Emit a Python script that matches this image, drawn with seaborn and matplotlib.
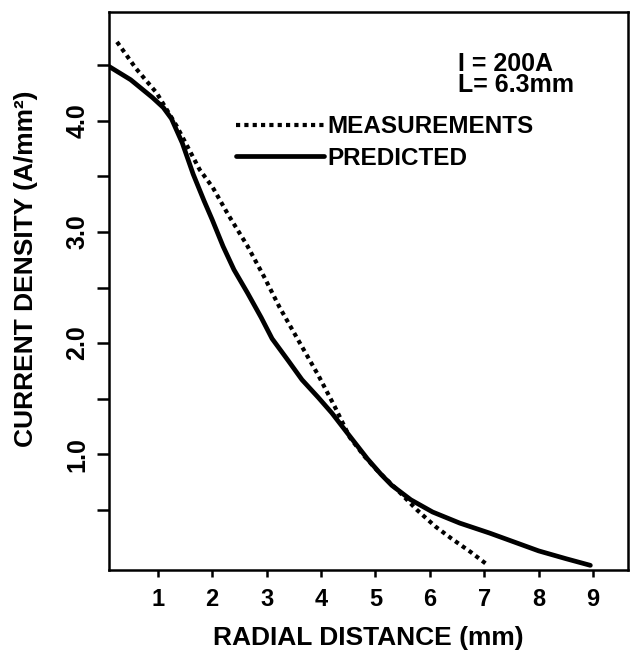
import numpy as np
import pandas as pd
import matplotlib
matplotlib.use("Agg")
import matplotlib.pyplot as plt
import seaborn as sns

# values
pred_r = [0.10, 0.50, 0.90, 1.10, 1.25, 1.45, 1.65, 1.85, 2.00, 2.20, 2.40,
          2.65, 2.90, 3.10, 3.40, 3.65, 3.95, 4.20, 4.50, 4.85, 5.10, 5.30,
          5.65, 6.05, 6.55, 7.10, 7.55, 8.00, 8.50, 8.95]
pred_j = [4.49, 4.37, 4.21, 4.12, 4.02, 3.80, 3.52, 3.28, 3.11, 2.87, 2.66,
          2.45, 2.23, 2.04, 1.84, 1.67, 1.51, 1.37, 1.18, 0.96, 0.82, 0.72,
          0.59, 0.48, 0.38, 0.29, 0.21, 0.13, 0.06, 0.00]

meas_r = [0.25, 0.60, 0.98, 1.35, 1.77, 2.01, 2.30, 2.64, 2.95, 3.24, 3.60,
          3.95, 4.25, 4.53, 4.80, 5.02, 5.40, 5.76, 6.10, 6.40, 6.75, 7.07]
meas_j = [4.71, 4.47, 4.25, 3.95, 3.56, 3.40, 3.15, 2.88, 2.60, 2.32, 2.01,
          1.71, 1.43, 1.15, 0.98, 0.86, 0.68, 0.50, 0.35, 0.24, 0.12, 0.00]

x_ticks = [1, 2, 3, 4, 5, 6, 7, 8, 9]
y_ticks = [0.5, 1.0, 1.5, 2.0, 2.5, 3.0, 3.5, 4.0, 4.5]
y_tick_labels = ["", "1.0", "", "2.0", "", "3.0", "", "4.0", ""]

sns.set_style("ticks")
plt.rcParams["font.family"] = ["Liberation Sans", "DejaVu Sans"]
plt.rcParams["font.weight"] = "bold"
plt.rcParams["text.color"] = "black"
plt.rcParams["axes.labelcolor"] = "black"
plt.rcParams["xtick.color"] = "black"
plt.rcParams["ytick.color"] = "black"
plt.rcParams["axes.edgecolor"] = "black"

fig = plt.figure(figsize=(6.44, 6.61), dpi=100)
ax = fig.add_axes([0.169, 0.138, 0.806, 0.844])

sns.lineplot(x=meas_r, y=meas_j, ax=ax, color="black", lw=3.0, sort=False,
             linestyle=(0, (1, 1)), label="MEASUREMENTS")
sns.lineplot(x=pred_r, y=pred_j, ax=ax, color="black", lw=3.4, sort=False,
             label="PREDICTED")

ax.set_xlim(0.1, 9.64)
ax.set_ylim(-0.04, 4.98)

ax.set_xticks(x_ticks)
ax.set_xticklabels([str(t) for t in x_ticks], fontsize=17)
ax.set_yticks(y_ticks)
ax.set_yticklabels(y_tick_labels, fontsize=18, rotation=90, va="center")
ax.tick_params(axis="x", length=5, width=1.8, pad=8)
ax.tick_params(axis="y", length=9, width=1.8, pad=5)

for s in ax.spines.values():
    s.set_linewidth(1.8)
    s.set_color("black")
    s.set_visible(True)

ax.set_xlabel("RADIAL DISTANCE (mm)", fontsize=19, fontweight="bold", labelpad=11)
ax.set_ylabel("CURRENT DENSITY (A/mm²)", fontsize=19, fontweight="bold")
ax.yaxis.set_label_coords(-0.137, 0.54)

ax.text(0.672, 0.888, "I = 200A\nL= 6.3mm", transform=ax.transAxes, fontsize=18,
        ha="left", va="center", linespacing=0.85)

leg = ax.legend(loc="upper left", bbox_to_anchor=(0.245, 0.815), frameon=False,
                fontsize=17.5, handlelength=3.6, handletextpad=0.15,
                borderpad=0, borderaxespad=0, labelspacing=0.35)

fig.savefig("out.png", dpi=100)
